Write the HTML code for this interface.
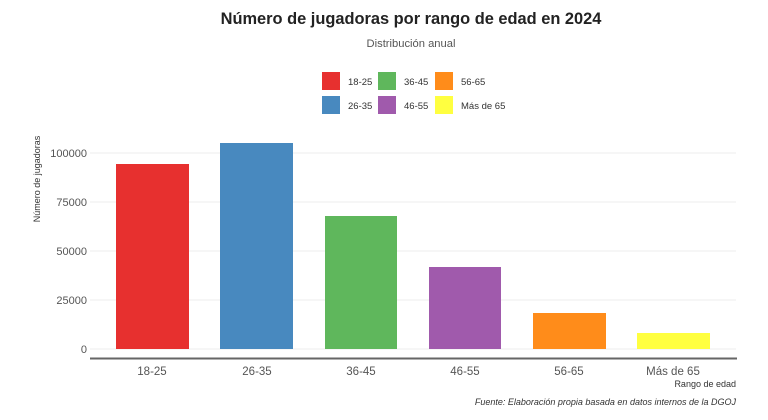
<!DOCTYPE html>
<html><head><meta charset="utf-8"><style>
html,body{margin:0;padding:0;background:#fff;}
svg{display:block;font-family:"Liberation Sans",sans-serif;}
</style></head><body>
<svg width="768" height="420" viewBox="0 0 768 420" xmlns="http://www.w3.org/2000/svg">
<text x="411" y="24" text-anchor="middle" font-size="16.4" font-weight="bold" fill="#222">Número de jugadoras por rango de edad en 2024</text>
<text x="411" y="47" text-anchor="middle" font-size="11.2" fill="#555">Distribución anual</text>
<g font-size="9.5" fill="#333">
<rect x="322" y="72" width="18" height="18" fill="#e7302f"/><text x="348" y="85">18-25</text>
<rect x="378" y="72" width="18" height="18" fill="#5fb75c"/><text x="404" y="85">36-45</text>
<rect x="435" y="72" width="18" height="18" fill="#ff8c1a"/><text x="461" y="85">56-65</text>
<rect x="322" y="96" width="18" height="18" fill="#4889bf"/><text x="348" y="109">26-35</text>
<rect x="378" y="96" width="18" height="18" fill="#a05aac"/><text x="404" y="109">46-55</text>
<rect x="435" y="96" width="18" height="18" fill="#ffff40"/><text x="461" y="109">Más de 65</text>
</g>
<g stroke="#ececec" stroke-width="1">
<line x1="90" x2="736" y1="153" y2="153"/>
<line x1="90" x2="736" y1="202" y2="202"/>
<line x1="90" x2="736" y1="251" y2="251"/>
<line x1="90" x2="736" y1="300" y2="300"/>
<line x1="90" x2="736" y1="349" y2="349"/>
</g>
<g font-size="11" fill="#555" text-anchor="end">
<text x="87" y="157">100000</text>
<text x="87" y="206">75000</text>
<text x="87" y="255">50000</text>
<text x="87" y="304">25000</text>
<text x="87" y="353">0</text>
</g>
<text transform="translate(40,179) rotate(-90)" text-anchor="middle" font-size="9" fill="#333">Número de jugadoras</text>
<rect x="116" y="164" width="73" height="185" fill="#e7302f"/>
<rect x="220" y="143" width="73" height="206" fill="#4889bf"/>
<rect x="325" y="216" width="72" height="133" fill="#5fb75c"/>
<rect x="429" y="267" width="72" height="82" fill="#a05aac"/>
<rect x="533" y="313" width="73" height="36" fill="#ff8c1a"/>
<rect x="637" y="333" width="73" height="16" fill="#ffff40"/>
<line x1="90" x2="737" y1="358.5" y2="358.5" stroke="#666" stroke-width="2"/>
<g font-size="11.5" fill="#555" text-anchor="middle">
<text x="152" y="375">18-25</text>
<text x="257" y="375">26-35</text>
<text x="361" y="375">36-45</text>
<text x="465" y="375">46-55</text>
<text x="569" y="375">56-65</text>
<text x="673" y="375">Más de 65</text>
</g>
<text x="736" y="387" text-anchor="end" font-size="9" fill="#333">Rango de edad</text>
<text x="736" y="405" text-anchor="end" font-size="9" font-style="italic" fill="#333">Fuente: Elaboración propia basada en datos internos de la DGOJ</text>
</svg>
</body></html>
